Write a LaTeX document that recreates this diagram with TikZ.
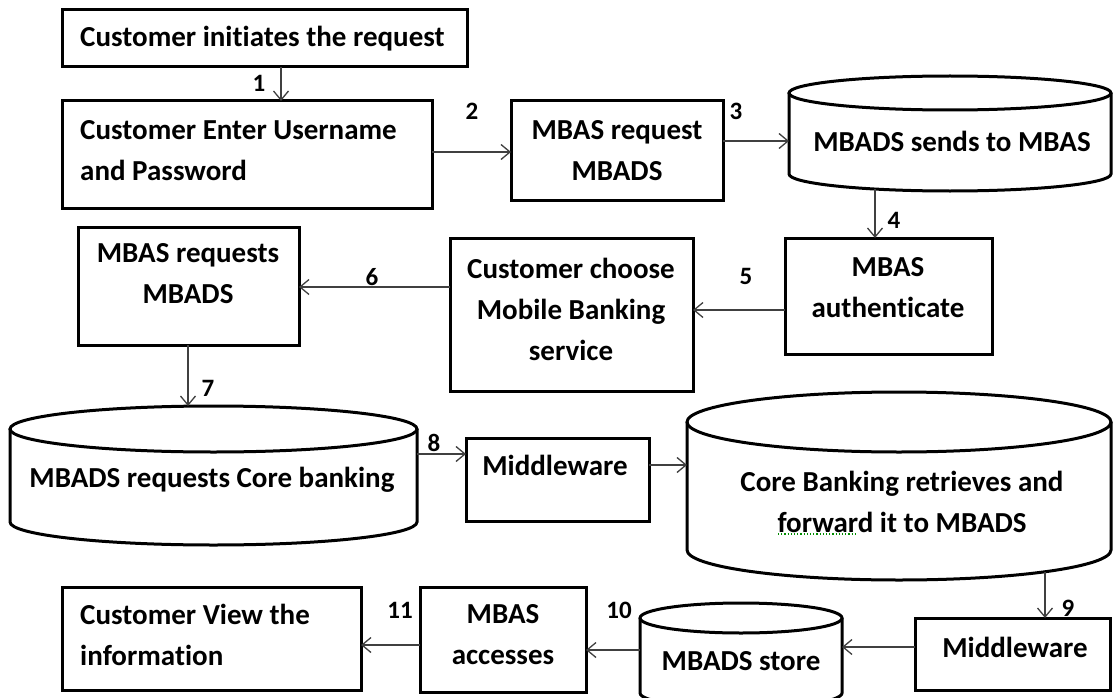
\documentclass[tikz,border=0pt]{standalone}
\usepackage{fontspec}
\setmainfont{Carlito}[Ligatures=NoCommon]
\usetikzlibrary{arrows.meta}
\tikzset{
 boxnode/.style={draw, line width=3pt, inner sep=0pt, outer sep=0pt},
 cylarea/.style={inner sep=0pt, outer sep=0pt},
 cylline/.style={line width=3pt},
 txt/.style={font=\fontsize{29}{41}\selectfont\bfseries, inner sep=0pt},
 num/.style={font=\fontsize{25}{28}\selectfont\bfseries, inner sep=0pt},
 arr/.style={draw=black!75, line width=1.3pt, -{Straight Barb[length=9pt,width=15pt,line width=1.3pt]}},
}
\newcommand\mycyl[6]{%
 \pgfmathsetmacro\cylcx{(#2+#3)/2}%
 \pgfmathsetmacro\cylrx{(#3-#2)/2}%
 \pgfmathsetmacro\cylw{#3-#2}%
 \pgfmathsetmacro\cylh{#5-#4}%
 \pgfmathsetmacro\cylcy{(#4+#5)/2}%
 \pgfmathsetmacro\cylyt{#4+#6}%
 \pgfmathsetmacro\cylyb{#5-#6}%
 \node[cylarea, minimum width=\cylw pt, minimum height=\cylh pt] (#1) at (\cylcx,\cylcy) {};
 \draw[cylline] (\cylcx,\cylyt) ellipse[x radius=\cylrx pt, y radius=#6pt];
 \draw[cylline] (#2,\cylyt) -- (#2,\cylyb) arc[start angle=180, end angle=360, x radius=\cylrx pt, y radius=#6pt] -- (#3,\cylyt);
}
\begin{document}
\begin{tikzpicture}[x=1pt,y=-1pt]
\useasboundingbox (0,0) rectangle (1113,698);
\clip (0,0) rectangle (1113,698);
\fill[white] (0,0) rectangle (1113,698);

% boxes
\node[boxnode, minimum width=405pt, minimum height=57pt] (A) at (264.5,38.5) {};
\node[boxnode, minimum width=370pt, minimum height=107pt] (B) at (247,154.5) {};
\node[boxnode, minimum width=212pt, minimum height=99pt] (C) at (617,150.5) {};
\mycyl{D}{789}{1111}{76}{191}{17}
\node[boxnode, minimum width=207pt, minimum height=116pt] (E) at (888.5,296) {};
\node[boxnode, minimum width=243pt, minimum height=153pt] (F) at (571.5,314.5) {};
\node[boxnode, minimum width=221pt, minimum height=118pt] (G) at (188.5,286) {};
\mycyl{H}{10}{417}{406}{545}{23}
\node[boxnode, minimum width=183pt, minimum height=83pt] (I) at (557.5,479.5) {};
\mycyl{J}{687}{1111}{392}{580}{30}
\node[boxnode, minimum width=195pt, minimum height=72pt] (K) at (1012.5,654) {};
\mycyl{L}{640}{842}{603}{708}{15}
\node[boxnode, minimum width=166pt, minimum height=105pt] (M) at (503,639.5) {};
\node[boxnode, minimum width=299pt, minimum height=103pt] (N) at (211.5,638.5) {};

% texts
\node[txt, anchor=west] (tA) at (80,39) {Customer initiates the request};
\node[txt, anchor=west, align=left] (tB) at (80,150.5) {Customer Enter Username\\and Password};
\node[txt, align=center] (tC) at (617,151) {MBAS request\\MBADS};
\node[txt] (tD) at (952,141) {MBADS sends to MBAS};
\node[txt, align=center] (tE) at (888,288) {MBAS\\authenticate};
\node[txt, align=center] (tF) at (571,309) {Customer choose\\Mobile Banking\\service};
\node[txt, align=center] (tG) at (188,274) {MBAS requests\\MBADS};
\node[txt] (tH) at (212,480) {MBADS requests Core banking};
\node[txt] (tI) at (555,465) {Middleware};
\node[txt, align=center] (tJ) at (902,501.5) {Core Banking retrieves and\\forward it to MBADS};
\node[txt] (tK) at (1015,647) {Middleware};
\node[txt] (tL) at (741,661) {MBADS store};
\node[txt, align=center] (tM) at (503,635) {MBAS\\accesses};
\node[txt, anchor=west, align=left] (tN) at (80,635) {Customer View the\\information};
\draw[green!55!black, dotted, line width=1.2pt] (778,534) -- (857,534);

% connectors
\coordinate (x1) at (281,0);
\draw[arr] (A.south -| x1) -- (B.north -| x1);
\coordinate (y2) at (0,152);
\draw[arr] (B.east |- y2) -- (C.west |- y2);
\coordinate (y3) at (0,141);
\draw[arr] (C.east |- y3) -- (D.west |- y3);
\coordinate (x4) at (875,189);
\draw[arr] (x4) -- (E.north -| x4);
\coordinate (y5) at (0,310);
\draw[arr] (E.west |- y5) -- (F.east |- y5);
\coordinate (y6) at (0,287);
\draw[arr] (F.west |- y6) -- (G.east |- y6);
\coordinate (x7) at (188,0);
\draw[arr] (G.south -| x7) -- (H.north -| x7);
\coordinate (y8) at (0,454);
\draw[arr] (H.east |- y8) -- (I.west |- y8);
\coordinate (y8b) at (0,465);
\draw[arr] (I.east |- y8b) -- (J.west |- y8b);
\coordinate (j9) at (1045,572);
\draw[arr] (j9) -- (K.north -| j9);
\coordinate (y10) at (0,647);
\draw[arr] (K.west |- y10) -- (L.east |- y10);
\coordinate (y10b) at (0,650);
\draw[arr] (L.west |- y10b) -- (M.east |- y10b);
\coordinate (y11) at (0,645);
\draw[arr] (M.west |- y11) -- (N.east |- y11);

% numbers
\node[num] (n1) at (259,83) {1};
\node[num] (n2) at (472,111) {2};
\node[num] (n3) at (736,111) {3};
\node[num] (n4) at (894,220) {4};
\node[num] (n5) at (746,276) {5};
\node[num] (n6) at (372,277) {6};
\node[num] (n7) at (208,388) {7};
\node[num] (n8) at (434,443) {8};
\node[num] (n9) at (1068,608) {9};
\node[num] (n10) at (619,610) {10};
\node[num] (n11) at (400,610) {11};
\end{tikzpicture}
\end{document}
